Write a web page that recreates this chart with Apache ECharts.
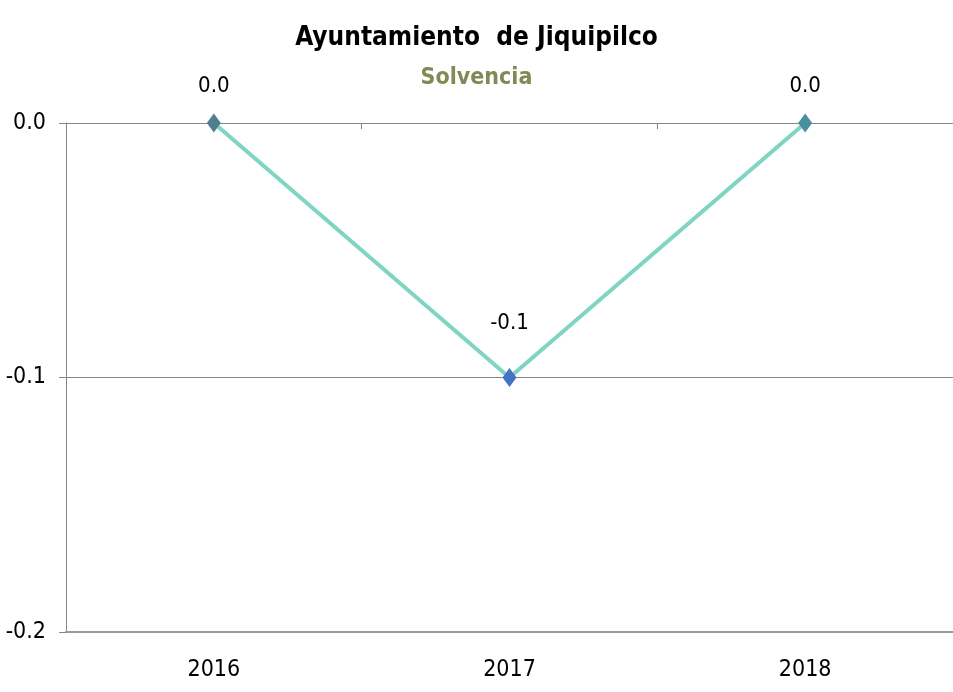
<!DOCTYPE html>
<html>
<head>
<meta charset="utf-8">
<script src="https://cdn.jsdelivr.net/npm/echarts@6/dist/echarts.min.js"></script>
<style>html,body{margin:0;padding:0;background:#fff}#c{width:953px;height:692px}</style>
</head>
<body>
<div id="c"></div>
<script>
const titleText = 'Ayuntamiento  de Jiquipilco';
const subtitleText = 'Solvencia';
const years = ['2016', '2017', '2018'];
const solvencia = [0.0, -0.1, 0.0];
const yTicks = [-0.2, -0.1, 0.0];

const FONT = "'Liberation Sans Narrow','Arial Narrow','DejaVu Sans Condensed',sans-serif";
const markerColors = ['#4f7f8e', '#4472c4', '#4a8fa0'];
const gridColor = '#868686';

const chart = echarts.init(document.getElementById('c'), null, {renderer: 'canvas'});
chart.setOption({
  animation: false,
  backgroundColor: '#ffffff',
  title: [
    {text: titleText, left: 'center', top: 20,
     textStyle: {fontFamily: FONT, fontSize: 26, fontWeight: 'bold', color: '#000'}},
    {text: subtitleText, left: 'center', top: 62,
     textStyle: {fontFamily: FONT, fontSize: 23, fontWeight: 'bold', color: '#7f8b55'}}
  ],
  grid: {left: 66, top: 123, width: 888, height: 509, containLabel: false},
  xAxis: [
    {type: 'category', data: years, position: 'bottom', boundaryGap: true,
     axisLine: {show: true, onZero: false, lineStyle: {color: '#9a9a9a', width: 2}},
     axisTick: {show: false},
     axisLabel: {show: true, fontFamily: FONT, fontSize: 23, color: '#000', margin: 27},
     splitLine: {show: false}},
    {type: 'category', data: years, position: 'top', boundaryGap: true,
     axisLine: {show: true, onZero: false, lineStyle: {color: gridColor, width: 1}},
     axisTick: {show: true, inside: true, length: 6, lineStyle: {color: gridColor}},
     axisLabel: {show: false},
     splitLine: {show: false}}
  ],
  yAxis: {
    type: 'value', min: yTicks[0], max: yTicks[yTicks.length - 1], interval: 0.1,
    axisLine: {show: true, lineStyle: {color: gridColor, width: 1}},
    axisTick: {show: true, length: 7, lineStyle: {color: gridColor}},
    axisLabel: {fontFamily: FONT, fontSize: 23, color: '#000', margin: 20,
      formatter: v => (Math.abs(v) < 1e-9 ? 0 : v).toFixed(1)},
    splitLine: {show: true, lineStyle: {color: gridColor, width: 1}}
  },
  series: [{
    type: 'line',
    xAxisIndex: 0,
    data: solvencia.map((v, i) => ({
      value: v,
      itemStyle: {color: markerColors[i]},
      label: {distance: v < 0 ? 34 : 16}
    })),
    symbol: 'diamond',
    symbolSize: [14, 19],
    lineStyle: {color: '#7fd4c4', width: 4},
    label: {show: true, position: 'top', fontFamily: FONT, fontSize: 22, color: '#000',
      formatter: p => (Math.abs(p.value) < 1e-9 ? 0 : p.value).toFixed(1)},
    z: 5
  }]
});
</script>
</body>
</html>
